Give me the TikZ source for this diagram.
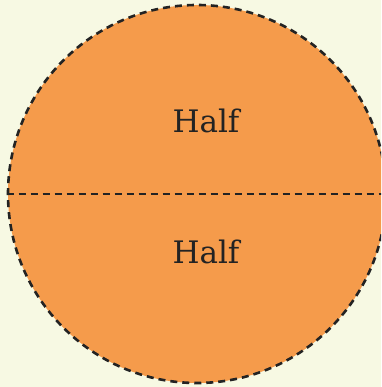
\documentclass[tikz,border=0pt]{standalone}
\usepackage{fontspec}
\setmainfont{DejaVu Serif}
\definecolor{bgc}{RGB}{247,249,227}
\definecolor{orangefill}{RGB}{245,155,75}
\definecolor{dashc}{RGB}{35,35,35}
\begin{document}
\begin{tikzpicture}[x=1pt,y=-1pt,
  dashline/.style={draw=dashc, line width=2.6pt, dash pattern=on 7pt off 5pt},
  disc/.style={circle, inner sep=0pt, minimum size=378pt, fill=orangefill, dashline},
  halflabel/.style={font=\fontsize{31}{36}\selectfont\mdseries, text=dashc, inner sep=0pt, anchor=base}]
\fill[bgc] (0,0) rectangle (381,387);
\clip (0,0) rectangle (381,387);
\useasboundingbox (0,0) rectangle (381,387);
\node[disc] (c) at (197,194) {};
\draw[dashline] (c.west) -- (c.east);
\node[halflabel] (top) at (206,133) {Half};
\node[halflabel] (bot) at (206,263) {Half};
\end{tikzpicture}
\end{document}
